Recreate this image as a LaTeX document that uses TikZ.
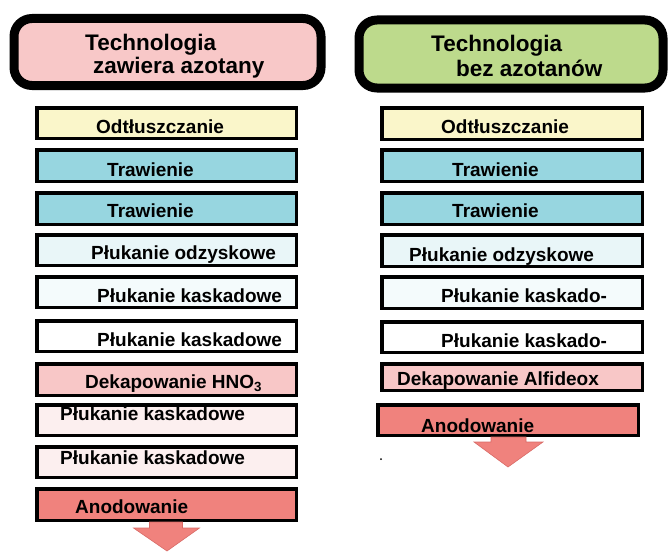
\documentclass[tikz,border=0pt]{standalone}
\usepackage{fontspec}
\setmainfont{Liberation Sans}
\usetikzlibrary{calc}
\definecolor{hdrpink}{HTML}{F8C8C8}
\definecolor{hdrgreen}{HTML}{BDDA8C}
\definecolor{cream}{HTML}{FAF6CA}
\definecolor{teal}{HTML}{97D6E0}
\definecolor{lcyan}{HTML}{E9F6F8}
\definecolor{vlcyan}{HTML}{F4FBFC}
\definecolor{dpink}{HTML}{F8C7C7}
\definecolor{vlpink}{HTML}{FCEFEF}
\definecolor{salmon}{HTML}{F0827D}
\definecolor{salmondk}{HTML}{D86A66}
\tikzset{
  hdr/.style={draw=black, line width=9pt, rounded corners=18pt, inner sep=0pt},
  stepbox/.style={draw=black, line width=3.5pt, inner sep=0pt, minimum width=259.5pt},
  hdrtxt/.style={anchor=base west, inner sep=0pt, font=\bfseries\fontsize{22.5}{26}\selectfont},
  boxtxt/.style={anchor=base west, inner sep=0pt, font=\bfseries\fontsize{19}{22}\selectfont},
  blockarrow/.style={fill=salmon, draw=salmondk, line width=0.6pt}
}
\begin{document}
\begin{tikzpicture}[x=1pt,y=-1pt]
\useasboundingbox (0,0) rectangle (668,551);
% headers
\node[hdr, fill=hdrpink, minimum width=307pt, minimum height=67pt] (hL) at (167.5,52) {};
\node[hdr, fill=hdrgreen, minimum width=304pt, minimum height=68pt] (hR) at (511,54) {};
\node[hdrtxt] (hL1) at (85,50) {Technologia};
\node[hdrtxt] (hL2) at (93,74) {zawiera azotany};
\node[hdrtxt] (hR1) at (431,52) {Technologia};
\node[hdrtxt] (hR2) at (456,76) {bez azotanów};
% left column boxes
\node[stepbox, fill=cream, minimum height=30.5pt] (L1) at (166.5,123) {};
\node[stepbox, fill=teal, minimum height=31.5pt] (L2) at (166.5,165.5) {};
\node[stepbox, fill=teal, minimum height=31.5pt] (L3) at (166.5,208.5) {};
\node[stepbox, fill=lcyan, minimum height=30.5pt] (L4) at (166.5,250) {};
\node[stepbox, fill=vlcyan, minimum height=30.5pt] (L5) at (166.5,292) {};
\node[stepbox, fill=white, minimum height=30.5pt] (L6) at (166.5,336) {};
\node[stepbox, fill=dpink, minimum height=31.5pt] (L7) at (166.5,379.5) {};
\node[stepbox, fill=vlpink, minimum height=30.5pt] (L8) at (166.5,420) {};
\node[stepbox, fill=vlpink, minimum height=30.5pt] (L9) at (166.5,462) {};
\node[stepbox, fill=salmon, minimum height=31.5pt] (L10) at (166.5,504.5) {};
\node[boxtxt] at (96,133) {Odtłuszczanie};
\node[boxtxt] at (107,176) {Trawienie};
\node[boxtxt] at (107,217) {Trawienie};
\node[boxtxt] at (91,259) {Płukanie odzyskowe};
\node[boxtxt] at (97,302) {Płukanie kaskadowe};
\node[boxtxt] at (97,346) {Płukanie kaskadowe};
\node[boxtxt] at (85,388) {Dekapowanie HNO\textsubscript{3}};
\node[boxtxt] at (60,420) {Płukanie kaskadowe};
\node[boxtxt] at (60,464) {Płukanie kaskadowe};
\node[boxtxt] at (75,513) {Anodowanie};
% right column boxes
\node[stepbox, fill=cream, minimum height=31.5pt, minimum width=260.5pt] (R1) at (512,123.5) {};
\node[stepbox, fill=teal, minimum height=31.5pt, minimum width=260.5pt] (R2) at (512,165.5) {};
\node[stepbox, fill=teal, minimum height=31.5pt, minimum width=260.5pt] (R3) at (512,208.5) {};
\node[stepbox, fill=lcyan, minimum height=31.5pt, minimum width=260.5pt] (R4) at (512,250.5) {};
\node[stepbox, fill=vlcyan, minimum height=31.5pt, minimum width=260.5pt] (R5) at (512,292.5) {};
\node[stepbox, fill=white, minimum height=30.5pt, minimum width=260.5pt] (R6) at (512,337) {};
\node[stepbox, fill=dpink, minimum height=26.5pt, minimum width=260.5pt] (R7) at (512,377) {};
\node[stepbox, fill=salmon, minimum height=30.5pt, minimum width=260.5pt] (R8) at (508,420) {};
\node[boxtxt] at (441,133) {Odtłuszczanie};
\node[boxtxt] at (452,176) {Trawienie};
\node[boxtxt] at (452,217) {Trawienie};
\node[boxtxt] at (409,261) {Płukanie odzyskowe};
\node[boxtxt] at (441,302) {Płukanie kaskado-};
\node[boxtxt] at (441,347) {Płukanie kaskado-};
\node[boxtxt] at (397,385) {Dekapowanie Alfideox};
\node[boxtxt] at (421,432) {Anodowanie};
% output arrows
\draw[blockarrow] ($(L10.south)+(-17,0)$) -- ($(L10.south)+(16,0)$) -- ($(L10.south)+(16,6)$)
  -- ($(L10.south)+(33,6)$) -- ($(L10.south)+(0.5,29)$) -- ($(L10.south)+(-33,6)$)
  -- ($(L10.south)+(-17,6)$) -- cycle;
\draw[blockarrow] ($(R8.south)+(-17,0)$) -- ($(R8.south)+(18,0)$) -- ($(R8.south)+(18,5)$)
  -- ($(R8.south)+(35,5)$) -- ($(R8.south)+(0,30)$) -- ($(R8.south)+(-34,5)$)
  -- ($(R8.south)+(-17,5)$) -- cycle;
\fill (381,459) circle (1pt);
\end{tikzpicture}
\end{document}
